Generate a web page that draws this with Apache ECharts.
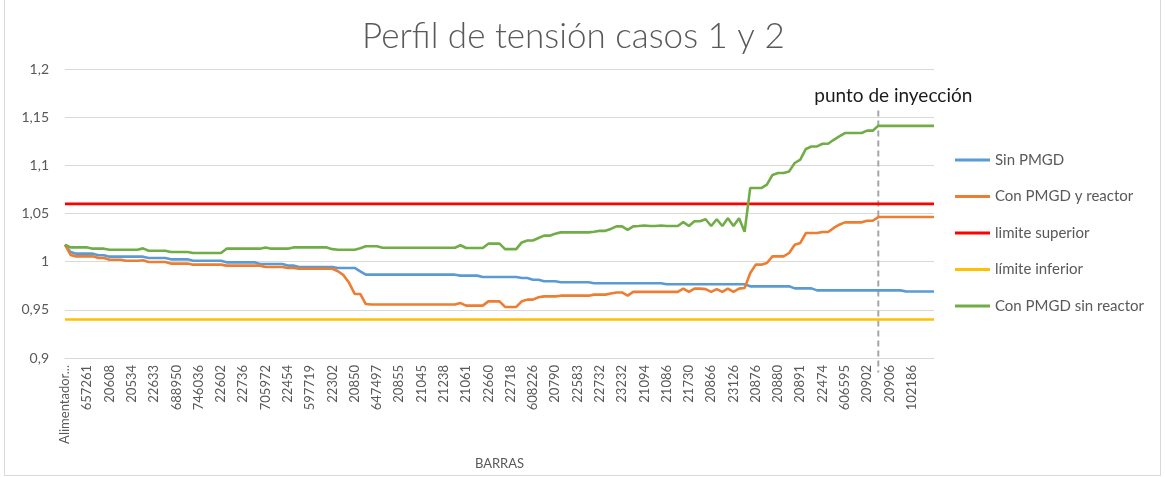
<!DOCTYPE html>
<html lang="es">
<head>
    <meta charset="UTF-8">
    <title>Perfil de tensión casos 1 y 2</title>
    <script src="https://cdn.jsdelivr.net/npm/echarts@6/dist/echarts.min.js"></script>
    <style>
        body { margin: 0; background: #fff; font-family: Lato, "Liberation Sans", sans-serif; }
        #chart { width: 1165px; height: 477px; }
        .marco { position: absolute; left: 4px; top: -1px; width: 1155px; height: 475px; border: 1px solid #d9d9d9; pointer-events: none; }
    </style>
</head>
<body>
<div id="chart"></div>
<div class="marco"></div>
<script>
    // etiquetas del eje X (una cada 4 barras)
    const tickLabels = ['Alimentador...', '657261', '20608', '20534', '22633', '688950', '746036', '22602', '22736',
        '705972', '22454', '597719', '22302', '20850', '647497', '20855', '21045', '21238', '21061', '22660',
        '22718', '608226', '20790', '22583', '22732', '23232', '21094', '21086', '21730', '20866', '23126',
        '20876', '20880', '20891', '22474', '606595', '20902', '20906', '102186'];
    const labelStep = 4;

    // tensión en p.u. por barra
    const sinPMGD = [
        1.0176, 1.010, 1.0083, 1.0083, 1.0083, 1.0083, 1.0066, 1.0066, 1.0052, 1.0052,
        1.0052, 1.0052, 1.0052, 1.0052, 1.0052, 1.0038, 1.0038, 1.0038, 1.0038, 1.0024,
        1.0024, 1.0024, 1.0024, 1.001, 1.001, 1.001, 1.001, 1.001, 1.001, 0.9993,
        0.9993, 0.9993, 0.9993, 0.9993, 0.9993, 0.9976, 0.9976, 0.9976, 0.9976, 0.9976,
        0.9959, 0.9959, 0.9945, 0.9945, 0.9945, 0.9945, 0.9945, 0.9945, 0.9945, 0.9935,
        0.9935, 0.9935, 0.9935, 0.990, 0.9865, 0.9865, 0.9865, 0.9865, 0.9865, 0.9865,
        0.9865, 0.9865, 0.9865, 0.9865, 0.9865, 0.9865, 0.9865, 0.9865, 0.9865, 0.9865,
        0.9865, 0.9855, 0.9855, 0.9855, 0.9855, 0.9841, 0.9841, 0.9841, 0.9841, 0.9841,
        0.9841, 0.9841, 0.983, 0.983, 0.9813, 0.9813, 0.9796, 0.9796, 0.9796, 0.9786,
        0.9786, 0.9786, 0.9786, 0.9786, 0.9786, 0.9776, 0.9776, 0.9776, 0.9776, 0.9776,
        0.9776, 0.9776, 0.9776, 0.9776, 0.9776, 0.9776, 0.9776, 0.9776, 0.9765, 0.9765,
        0.9765, 0.9765, 0.9765, 0.9765, 0.9765, 0.9765, 0.9765, 0.9765, 0.9765, 0.9765,
        0.9765, 0.9765, 0.9765, 0.9744, 0.9744, 0.9744, 0.9744, 0.9744, 0.9744, 0.9744,
        0.9744, 0.9723, 0.9723, 0.9723, 0.9723, 0.9702, 0.9702, 0.9702, 0.9702, 0.9702,
        0.9702, 0.9702, 0.9702, 0.9702, 0.9702, 0.9702, 0.9702, 0.9702, 0.9702, 0.9702,
        0.9702, 0.969, 0.969, 0.969, 0.969, 0.969, 0.969
    ];
    const conReactor = [
        1.0176, 1.007, 1.0055, 1.0055, 1.0055, 1.0055, 1.0038, 1.0038, 1.002, 1.002,
        1.002, 1.001, 1.001, 1.001, 1.0015, 0.9997, 0.9997, 0.9997, 0.9997, 0.998,
        0.998, 0.998, 0.998, 0.9969, 0.9969, 0.9969, 0.9969, 0.9969, 0.9969, 0.9959,
        0.9959, 0.9959, 0.9959, 0.9959, 0.9959, 0.9959, 0.9945, 0.9945, 0.9945, 0.9945,
        0.9935, 0.9935, 0.9927, 0.9927, 0.9927, 0.9927, 0.9927, 0.9927, 0.9927, 0.990,
        0.986, 0.978, 0.9665, 0.9665, 0.956, 0.9556, 0.9556, 0.9556, 0.9556, 0.9556,
        0.9556, 0.9556, 0.9556, 0.9556, 0.9556, 0.9556, 0.9556, 0.9556, 0.9556, 0.9556,
        0.9556, 0.957, 0.9544, 0.9544, 0.9544, 0.9544, 0.9588, 0.9588, 0.9588, 0.953,
        0.953, 0.953, 0.9588, 0.9606, 0.9606, 0.963, 0.964, 0.964, 0.964, 0.9647,
        0.9647, 0.9647, 0.9647, 0.9647, 0.9647, 0.9658, 0.9658, 0.9658, 0.967, 0.968,
        0.968, 0.9647, 0.9686, 0.9686, 0.9686, 0.9686, 0.9686, 0.9686, 0.9686, 0.9686,
        0.9686, 0.972, 0.9686, 0.972, 0.972, 0.9715, 0.9686, 0.9715, 0.9686, 0.972,
        0.9686, 0.972, 0.9727, 0.988, 0.9969, 0.9969, 0.9986, 1.0055, 1.0055, 1.0055,
        1.009, 1.0176, 1.0194, 1.0297, 1.0297, 1.0297, 1.0308, 1.0308, 1.035, 1.0384,
        1.0408, 1.0408, 1.0408, 1.0408, 1.0425, 1.0425, 1.0463, 1.0463, 1.0463, 1.0463,
        1.0463, 1.0463, 1.0463, 1.0463, 1.0463, 1.0463, 1.0463
    ];
    const sinReactor = [
        1.0176, 1.0148, 1.0148, 1.0148, 1.0148, 1.0135, 1.0135, 1.0135, 1.0124, 1.0124,
        1.0124, 1.0124, 1.0124, 1.0124, 1.0138, 1.0114, 1.0114, 1.0114, 1.0114, 1.0100,
        1.0100, 1.0100, 1.0100, 1.009, 1.009, 1.009, 1.009, 1.009, 1.009, 1.0135,
        1.0135, 1.0135, 1.0135, 1.0135, 1.0135, 1.0135, 1.0148, 1.0135, 1.0135, 1.0135,
        1.0135, 1.0148, 1.0148, 1.0148, 1.0148, 1.0148, 1.0148, 1.0148, 1.013, 1.0124,
        1.0124, 1.0124, 1.0124, 1.014, 1.016, 1.016, 1.016, 1.0145, 1.0145, 1.0145,
        1.0145, 1.0145, 1.0145, 1.0145, 1.0145, 1.0145, 1.0145, 1.0145, 1.0145, 1.0145,
        1.0145, 1.017, 1.0142, 1.0142, 1.0142, 1.0142, 1.0187, 1.0187, 1.0187, 1.013,
        1.013, 1.013, 1.020, 1.022, 1.022, 1.0245, 1.027, 1.027, 1.029, 1.0304,
        1.0304, 1.0304, 1.0304, 1.0304, 1.0304, 1.031, 1.032, 1.032, 1.034, 1.0366,
        1.0366, 1.033, 1.0366, 1.037, 1.0375, 1.037, 1.037, 1.0375, 1.037, 1.037,
        1.037, 1.041, 1.037, 1.042, 1.042, 1.044, 1.037, 1.044, 1.037, 1.045,
        1.037, 1.045, 1.031, 1.0764, 1.0764, 1.0764, 1.080, 1.090, 1.092, 1.092,
        1.0937, 1.1024, 1.106, 1.117, 1.1196, 1.1196, 1.1224, 1.1224, 1.1265, 1.130,
        1.1335, 1.1335, 1.1335, 1.1335, 1.136, 1.136, 1.141, 1.141, 1.141, 1.141,
        1.141, 1.141, 1.141, 1.141, 1.141, 1.141, 1.141
    ];
    const limiteSuperior = 1.06;
    const limiteInferior = 0.94;
    // barra donde se conecta el PMGD
    const injectionIndex = 146;

    const lastIndex = sinPMGD.length - 1;
    const gris = '#595959';
    const fuente = 'Lato';

    const chart = echarts.init(document.getElementById('chart'));

    function serie(name, color, values) {
        return {
            name: name,
            type: 'line',
            data: values.map((v, i) => [i, v]),
            symbol: 'none',
            lineStyle: { color: color, width: 2.6 },
            itemStyle: { color: color },
            animation: false
        };
    }
    function limite(name, color, value) {
        return {
            name: name,
            type: 'line',
            data: [[0, value], [lastIndex, value]],
            symbol: 'none',
            lineStyle: { color: color, width: 2.6 },
            itemStyle: { color: color },
            animation: false
        };
    }

    chart.setOption({
        animation: false,
        title: {
            text: 'Perfil de tensión casos 1 y 2',
            left: 357,
            top: 14,
            textStyle: { fontFamily: fuente, fontSize: 35, fontWeight: 300, color: gris }
        },
        legend: {
            orient: 'vertical',
            left: 955,
            top: 152,
            icon: 'rect',
            itemWidth: 35,
            itemHeight: 3,
            itemGap: 20.5,
            padding: 0,
            textStyle: { fontFamily: fuente, fontSize: 15, color: gris, lineHeight: 16 },
            data: ['Sin PMGD', 'Con PMGD y reactor', 'limite superior', 'límite inferior', 'Con PMGD sin reactor']
        },
        grid: { left: 65, right: 231, top: 69, bottom: 119 },
        xAxis: {
            type: 'value',
            min: 0,
            max: lastIndex,
            interval: labelStep,
            name: 'BARRAS',
            nameLocation: 'middle',
            nameGap: 99,
            nameTextStyle: { fontFamily: fuente, fontSize: 13, color: gris },
            axisLine: { lineStyle: { color: '#d9d9d9', width: 1 } },
            axisTick: { show: false },
            splitLine: { show: false },
            axisLabel: {
                rotate: 90,
                margin: 7,
                fontFamily: fuente,
                fontSize: 13,
                color: gris,
                showMaxLabel: false,
                formatter: function (v) {
                    const k = v / labelStep;
                    return Number.isInteger(k) && tickLabels[k] !== undefined ? tickLabels[k] : '';
                }
            }
        },
        yAxis: {
            type: 'value',
            min: 0.9,
            max: 1.2,
            interval: 0.05,
            axisLine: { show: false },
            axisTick: { show: false },
            splitLine: { lineStyle: { color: '#d9d9d9', width: 1 } },
            axisLabel: {
                margin: 16,
                fontFamily: fuente,
                fontSize: 14,
                color: gris,
                formatter: v => String(+v.toFixed(2)).replace('.', ',')
            }
        },
        series: [
            serie('Sin PMGD', '#5B9BD5', sinPMGD),
            serie('Con PMGD y reactor', '#ED7D31', conReactor),
            limite('limite superior', '#FF0000', limiteSuperior),
            limite('límite inferior', '#FFC000', limiteInferior),
            serie('Con PMGD sin reactor', '#70AD47', sinReactor)
        ]
    });

    // línea punteada del punto de inyección
    const arriba = chart.convertToPixel({ gridIndex: 0 }, [injectionIndex, 1.157]);
    const abajo = chart.convertToPixel({ gridIndex: 0 }, [injectionIndex, 0.885]);
    chart.setOption({
        graphic: [
            {
                type: 'line',
                shape: { x1: arriba[0], y1: arriba[1], x2: abajo[0], y2: abajo[1] },
                style: { stroke: '#a6a6a6', lineWidth: 2, lineDash: [6, 4] },
                silent: true
            },
            {
                type: 'text',
                x: arriba[0] + 15,
                y: arriba[1] - 15,
                style: {
                    text: 'punto de inyección',
                    fontFamily: fuente,
                    fontSize: 19,
                    fill: '#1a1a1a',
                    align: 'center',
                    verticalAlign: 'middle'
                },
                silent: true
            }
        ]
    });
</script>
</body>
</html>
